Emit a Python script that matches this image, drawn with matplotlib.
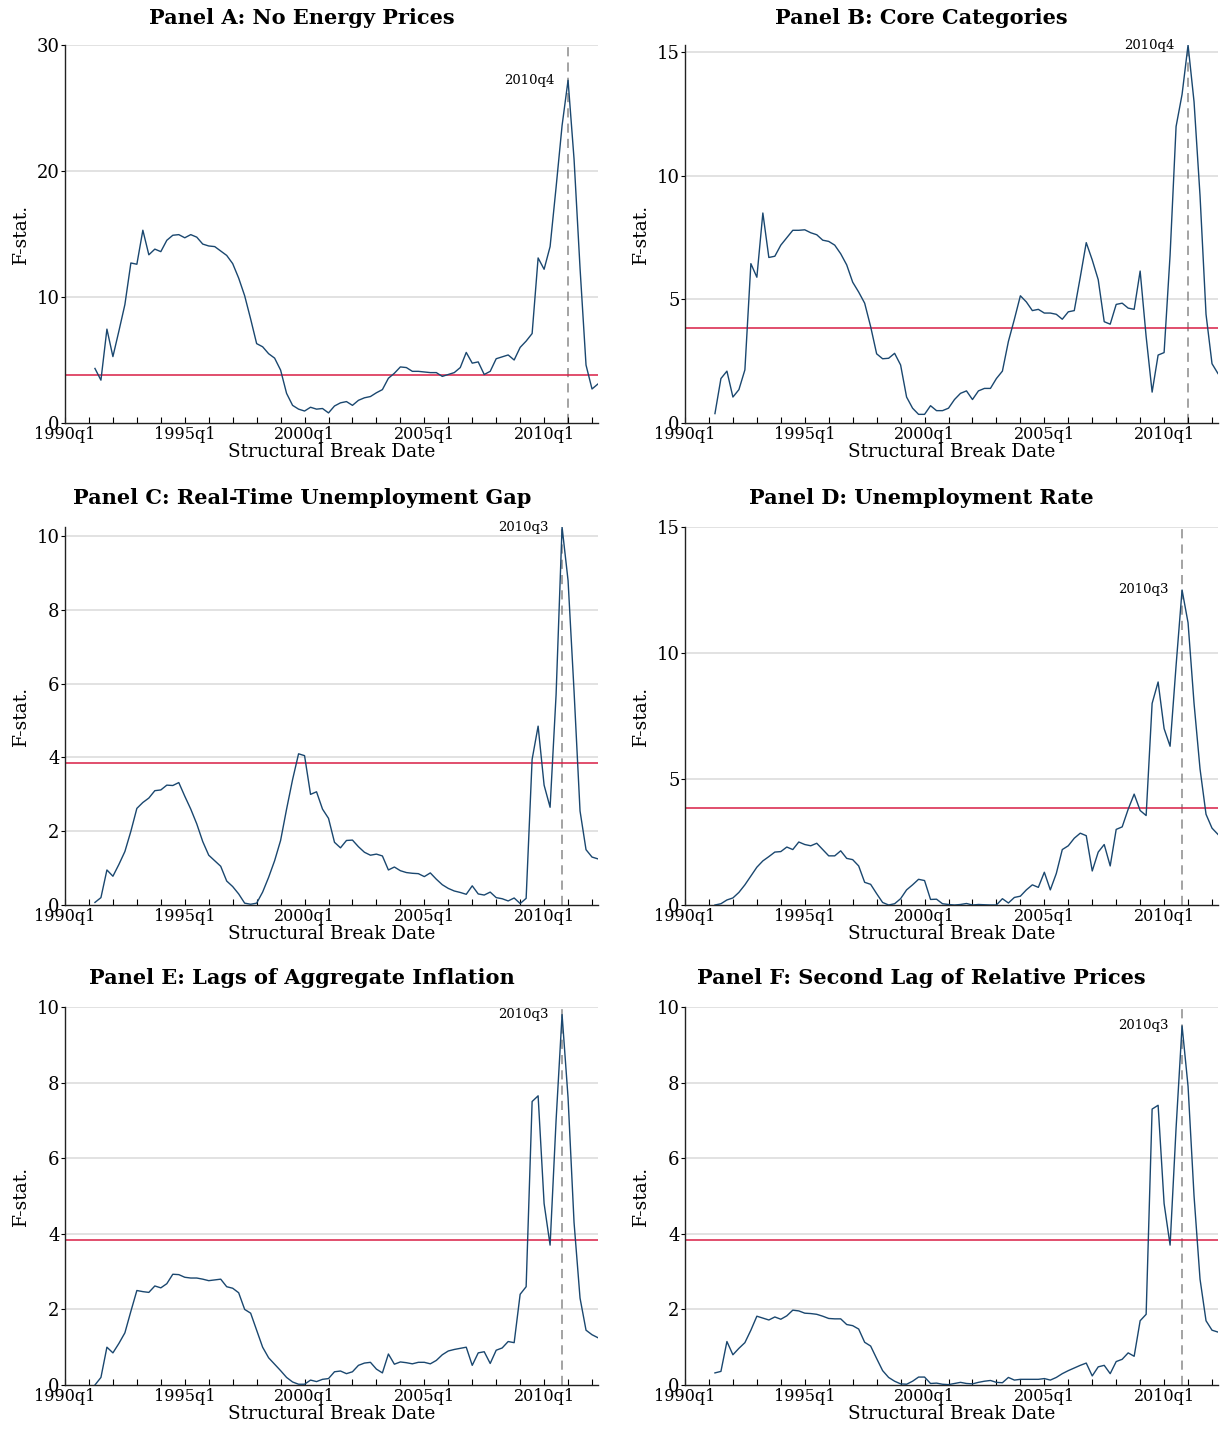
import numpy as np
import matplotlib.pyplot as plt
from matplotlib.ticker import MultipleLocator

plt.rcParams["font.family"] = ["DejaVu Serif"]

# break dates: quarterly, 1991q2 .. 2012q2 (85 obs)
START = 1991.25
CRIT = 3.84

no_energy = [
    4.33, 3.4, 7.45,
    5.27, 7.3, 9.4, 12.7,
    12.6, 15.3, 13.35, 13.8,
    13.6, 14.5, 14.9, 14.95,
    14.7, 14.95, 14.75, 14.2,
    14.05, 14.0, 13.65, 13.3,
    12.65, 11.5, 10.1, 8.25,
    6.3, 6.05, 5.5, 5.15,
    4.2, 2.35, 1.4, 1.1,
    0.95, 1.25, 1.1, 1.15,
    0.8, 1.35, 1.6, 1.7,
    1.4, 1.8, 2.0, 2.1,
    2.4, 2.65, 3.55, 3.95,
    4.45, 4.4, 4.1, 4.1,
    4.05, 4.0, 4.0, 3.7,
    3.85, 4.0, 4.4, 5.6,
    4.75, 4.85, 3.85, 4.1,
    5.1, 5.25, 5.4, 5.0,
    6.0, 6.5, 7.1, 13.1,
    12.2, 14.0, 18.7, 23.6,
    27.2, 20.95, 12.3, 4.6,
    2.7, 3.1,
]

core = [
    0.38, 1.8, 2.1,
    1.05, 1.35, 2.15, 6.45,
    5.9, 8.5, 6.7, 6.75,
    7.2, 7.5, 7.8, 7.8,
    7.82, 7.7, 7.62, 7.4,
    7.35, 7.2, 6.85, 6.4,
    5.7, 5.3, 4.85, 3.9,
    2.8, 2.6, 2.62, 2.82,
    2.35, 1.05, 0.6, 0.35,
    0.35, 0.7, 0.5, 0.5,
    0.6, 0.95, 1.2, 1.3,
    0.95, 1.3, 1.4, 1.4,
    1.8, 2.1, 3.3, 4.2,
    5.15, 4.9, 4.55, 4.6,
    4.45, 4.45, 4.4, 4.2,
    4.5, 4.55, 5.9, 7.3,
    6.6, 5.8, 4.1, 4.0,
    4.8, 4.85, 4.65, 4.6,
    6.15, 3.5, 1.25, 2.75,
    2.85, 6.8, 12.0, 13.3,
    15.3, 13.0, 9.2, 4.4,
    2.4, 2.0,
]

rt_gap = [
    0.07, 0.2, 0.95,
    0.78, 1.1, 1.45, 2.0,
    2.62, 2.78, 2.9, 3.1,
    3.12, 3.25, 3.24, 3.32,
    2.95, 2.6, 2.2, 1.72,
    1.35, 1.2, 1.05, 0.65,
    0.5, 0.3, 0.05, 0.02,
    0.05, 0.35, 0.75, 1.2,
    1.75, 2.6, 3.4, 4.1,
    4.05, 3.0, 3.07, 2.6,
    2.35, 1.7, 1.55, 1.75,
    1.76, 1.58, 1.43, 1.35,
    1.38, 1.33, 0.95, 1.03,
    0.93, 0.88, 0.86, 0.85,
    0.77, 0.87, 0.7, 0.55,
    0.45, 0.38, 0.34, 0.29,
    0.52, 0.3, 0.27, 0.35,
    0.2, 0.17, 0.11, 0.19,
    0.04, 0.18, 3.95, 4.85,
    3.25, 2.65, 5.7, 10.25,
    8.8, 5.8, 2.55, 1.5,
    1.3, 1.25,
]

unemp = [
    0.0, 0.05, 0.2,
    0.28, 0.5, 0.8, 1.15,
    1.5, 1.75, 1.92, 2.1,
    2.12, 2.3, 2.2, 2.5,
    2.4, 2.35, 2.45, 2.2,
    1.95, 1.95, 2.15, 1.85,
    1.8, 1.55, 0.9, 0.82,
    0.45, 0.1, 0.0, 0.05,
    0.25, 0.6, 0.8, 1.02,
    0.97, 0.22, 0.23, 0.05,
    0.02, 0.0, 0.02, 0.06,
    0.0, 0.02, 0.01, 0.0,
    0.0, 0.25, 0.08, 0.3,
    0.35, 0.6, 0.8, 0.7,
    1.3, 0.6, 1.25, 2.2,
    2.35, 2.65, 2.85, 2.75,
    1.35, 2.1, 2.4, 1.55,
    3.0, 3.1, 3.8, 4.4,
    3.75, 3.55, 8.0, 8.85,
    7.0, 6.3, 9.5, 12.5,
    11.2, 8.0, 5.4, 3.6,
    3.05, 2.8,
]

agg_infl = [
    0.0, 0.2, 1.0,
    0.85, 1.1, 1.38, 1.95,
    2.5, 2.47, 2.45, 2.62,
    2.57, 2.68, 2.93, 2.92,
    2.85, 2.83, 2.83, 2.8,
    2.76, 2.78, 2.8, 2.6,
    2.56, 2.44, 2.0, 1.9,
    1.45, 1.0, 0.72, 0.55,
    0.38, 0.2, 0.08, 0.02,
    0.02, 0.13, 0.09, 0.15,
    0.17, 0.35, 0.37, 0.3,
    0.35, 0.52, 0.58, 0.6,
    0.42, 0.32, 0.82, 0.55,
    0.61, 0.59, 0.56, 0.6,
    0.6, 0.56, 0.65, 0.8,
    0.9, 0.94, 0.97, 1.0,
    0.52, 0.85, 0.88, 0.57,
    0.92, 0.98, 1.15, 1.12,
    2.4, 2.6, 7.5, 7.65,
    4.8, 3.7, 7.0, 9.8,
    7.6, 4.3, 2.3, 1.45,
    1.33, 1.25,
]

rel_lag2 = [
    0.32, 0.36, 1.15,
    0.8, 0.97, 1.12, 1.45,
    1.82, 1.77, 1.72, 1.8,
    1.74, 1.83, 1.98, 1.96,
    1.9, 1.89, 1.87, 1.82,
    1.76, 1.75, 1.75, 1.6,
    1.57, 1.48, 1.13, 1.03,
    0.7, 0.38, 0.2, 0.1,
    0.03, 0.02, 0.1, 0.21,
    0.21, 0.04, 0.05, 0.02,
    0.01, 0.04, 0.07, 0.04,
    0.03, 0.07, 0.1, 0.12,
    0.07, 0.06, 0.2, 0.13,
    0.15, 0.15, 0.15, 0.15,
    0.17, 0.13, 0.2, 0.3,
    0.38, 0.45, 0.52, 0.58,
    0.24, 0.48, 0.52, 0.3,
    0.62, 0.68, 0.85, 0.76,
    1.7, 1.87, 7.3, 7.4,
    4.8, 3.7, 6.8, 9.5,
    7.9, 5.0, 2.8, 1.7,
    1.45, 1.4,
]

titles = [
    "Panel A: No Energy Prices",
    "Panel B: Core Categories",
    "Panel C: Real-Time Unemployment Gap",
    "Panel D: Unemployment Rate",
    "Panel E: Lags of Aggregate Inflation",
    "Panel F: Second Lag of Relative Prices",
]
series = [no_energy, core, rt_gap, unemp, agg_infl, rel_lag2]
break_labels = ["2010q4", "2010q4", "2010q3", "2010q3", "2010q3", "2010q3"]
y_steps = [10, 5, 2, 5, 2, 2]
y_tops = [30, 15, 10, 15, 10, 10]
x_labels = ["1990q1", "1995q1", "2000q1", "2005q1", "2010q1"]

LINE = "#1a476f"
RED = "#d81e45"

fig = plt.figure(figsize=(12.25, 14.3), dpi=100)

lefts = [65 / 1225, 685 / 1225]
width = 533 / 1225
bottoms = [1 - 423 / 1430, 1 - 905 / 1430, 1 - 1385 / 1430]
height = 378 / 1430
title_x = [0.2465, 0.752]
title_y = [1 - 18 / 1430, 1 - 498 / 1430, 1 - 978 / 1430]

for k in range(6):
    row, col = divmod(k, 2)
    ax = fig.add_axes([lefts[col], bottoms[row], width, height])
    y = np.array(series[k])
    x = START + 0.25 * np.arange(len(y))

    ymax = max(y_tops[k], y.max())
    for g in np.arange(y_steps[k], y_tops[k] + 0.01, y_steps[k]):
        ax.axhline(g, color="#e2e2e2", lw=1.4, zorder=0)
    ax.axhline(CRIT, color=RED, lw=1.1, zorder=2)

    ipk = int(np.argmax(y))
    ax.axvline(x[ipk], color="#8a8a8a", lw=1.1, ls=(0, (6, 4)), zorder=1)
    ax.plot(x, y, color=LINE, lw=1.0, zorder=3)
    ax.annotate(break_labels[k], (x[ipk], y[ipk]), xytext=(-10, 0),
                textcoords="offset points", ha="right", va="center",
                fontsize=9.5)

    ax.set_xlim(1990, 2012.25)
    ax.set_ylim(0, ymax)
    ax.set_xticks([1990, 1995, 2000, 2005, 2010])
    ax.set_xticklabels(x_labels)
    ax.xaxis.set_minor_locator(MultipleLocator(1))
    ax.set_yticks(np.arange(0, y_tops[k] + 0.01, y_steps[k]))
    ax.set_yticklabels([f"{v:g}" for v in np.arange(0, y_tops[k] + 0.01, y_steps[k])])

    ax.tick_params(axis="x", which="both", direction="in", length=4, width=0.8,
                   labelsize=11.5, pad=2)
    ax.tick_params(axis="y", direction="out", length=3, width=0.8,
                   labelsize=13, pad=1)
    for s in ["top", "right"]:
        ax.spines[s].set_visible(False)
    for s in ["left", "bottom"]:
        ax.spines[s].set_linewidth(1.0)
        ax.spines[s].set_color("#222222")

    ax.set_xlabel("Structural Break Date", fontsize=13.3, labelpad=0)
    ax.set_ylabel("F-stat.", fontsize=13.5, labelpad=5)
    fig.text(title_x[col], title_y[row], titles[k], ha="center", va="center",
             fontsize=15, fontweight="bold")

fig.savefig("out.png", dpi=100, facecolor="white")
